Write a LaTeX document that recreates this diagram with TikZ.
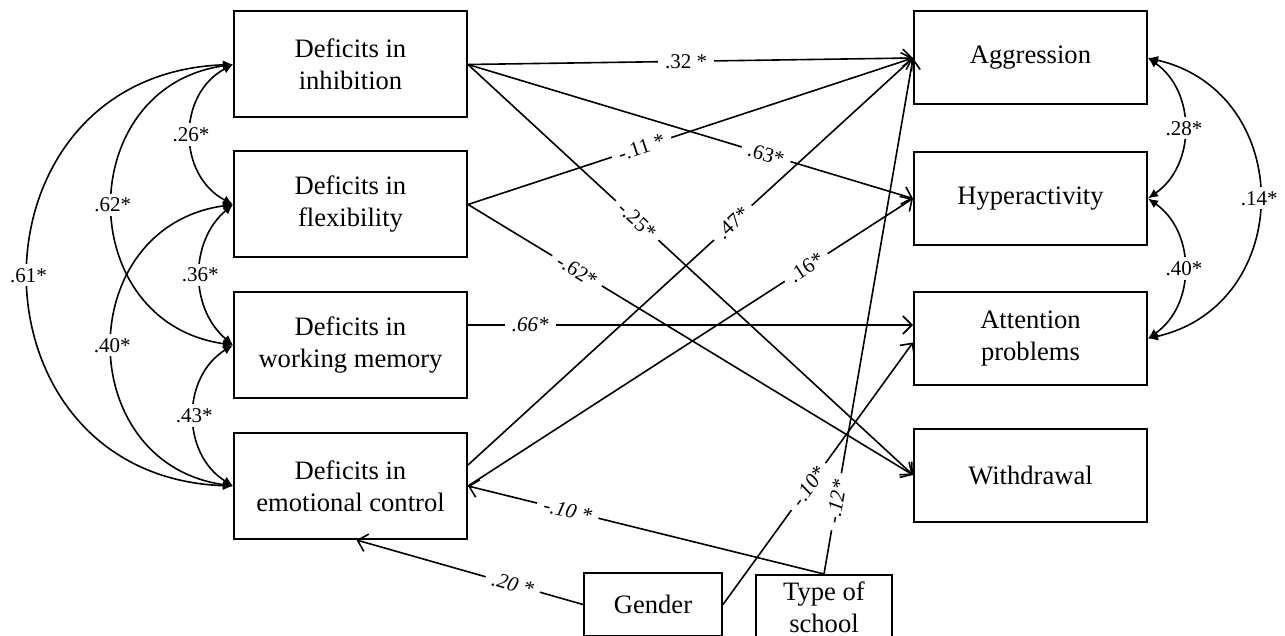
\documentclass[tikz,border=0pt]{standalone}
\usepackage{fontspec}
\setmainfont{Liberation Serif}
\usetikzlibrary{arrows.meta}

\begin{document}
\begin{tikzpicture}[x=0.5pt, y=-0.5pt,
    box/.style={draw, line width=1pt, minimum width=116.5pt, align=center,
      font=\fontsize{13.3}{16}\selectfont},
    effect/.style={line width=0.8pt, -{Straight Barb[length=4.5pt,width=9pt]}},
    cov/.style={line width=0.8pt, {Latex[length=5pt,width=4.5pt]}-{Latex[length=5pt,width=4.5pt]}},
    coef/.style={fill=white, inner xsep=3.5pt, inner ysep=2pt, font=\fontsize{10.5}{12}\selectfont},
    icoef/.style={coef, font=\fontsize{10.5}{12}\selectfont\itshape}]
  \useasboundingbox (0,0) rectangle (1285,636);
  \draw
    (350.5,64.5) node[box, minimum height=53pt] (inh){Deficits in\\inhibition}
    (350.5,204.5) node[box, minimum height=53pt] (flex){Deficits in\\flexibility}
    (350.5,345) node[box, minimum height=53pt] (wm){Deficits in\\working memory}
    (350.5,486) node[box, minimum height=53pt] (emo){Deficits in\\emotional control}
    (1030.5,58) node[box, minimum height=46.5pt] (agg){Aggression}
    (1030.5,198.5) node[box, minimum height=46.5pt] (hyp){Hyperactivity}
    (1030.5,338.5) node[box, minimum height=46.5pt] (att){Attention\\problems}
    (1030.5,475) node[box, minimum height=46.5pt] (wit){Withdrawal}
    (653,604.5) node[box, minimum width=69pt, minimum height=31.5pt] (gen){Gender}
    (824,607.5) node[box, minimum width=68pt, minimum height=32.5pt] (sch){Type of\\school};
  \begin{scope}[effect]
    \draw (inh.east) -- node[coef, pos=.49] {.32 *} (agg.west);
    \draw (inh.east) -- node[coef, sloped, pos=.67] {.63*} (hyp.west);
    \draw (inh.east) -- node[coef, sloped, pos=.38] {-.25*} (wit.west);
    \draw (flex.east) -- node[coef, sloped, pos=.39] {-.11 *} (agg.west);
    \draw (flex.east) -- node[coef, sloped, pos=.245] {-.62*} (wit.west);
    \draw ([yshift=10pt]wm.east) -- node[icoef, pos=.14] {.66*} ([yshift=10pt]wm.east -| att.west);
    \draw ([yshift=10.5pt]emo.east) -- node[coef, sloped, pos=.595] {.47*} (agg.west);
    \draw (emo.east) -- node[coef, sloped, pos=.76] {.16*} (hyp.west);
    \draw (gen.east) -- node[icoef, sloped, pos=.45] {-.10*} ([yshift=-2pt]att.west);
    \draw (sch.north) -- node[icoef, sloped, pos=.14] {-.12*} (agg.west);
    \draw (sch.north) -- node[icoef, sloped, pos=.72] {-.10 *} (emo.east);
    \draw (gen.west) -- node[icoef, sloped, pos=.31] {.20 *} ([xshift=3pt]emo.south);
  \end{scope}
  \begin{scope}[cov]
    \draw (inh.west) to[bend right=62, looseness=1.16] node[coef] {.26*} (flex.west);
    \draw (inh.west) to[bend right=82, looseness=1.48] node[coef] {.62*} (wm.west);
    \draw (inh.west) to[bend right=88, looseness=1.66] node[coef] {.61*} (emo.west);
    \draw (flex.west) to[bend right=50, looseness=1.04] node[coef] {.36*} (wm.west);
    \draw (flex.west) to[bend right=82, looseness=1.48] node[coef] {.40*} (emo.west);
    \draw (wm.west) to[bend right=58, looseness=1.11] node[coef] {.43*} (emo.west);
    \draw (agg.east) to[bend left=55, looseness=1.07] node[coef] {.28*} (hyp.east);
    \draw (hyp.east) to[bend left=55, looseness=1.07] node[coef] {.40*} (att.east);
    \draw (agg.east) to[bend left=77, looseness=1.39] node[coef] {.14*} (att.east);
  \end{scope}
\end{tikzpicture}
\end{document}
